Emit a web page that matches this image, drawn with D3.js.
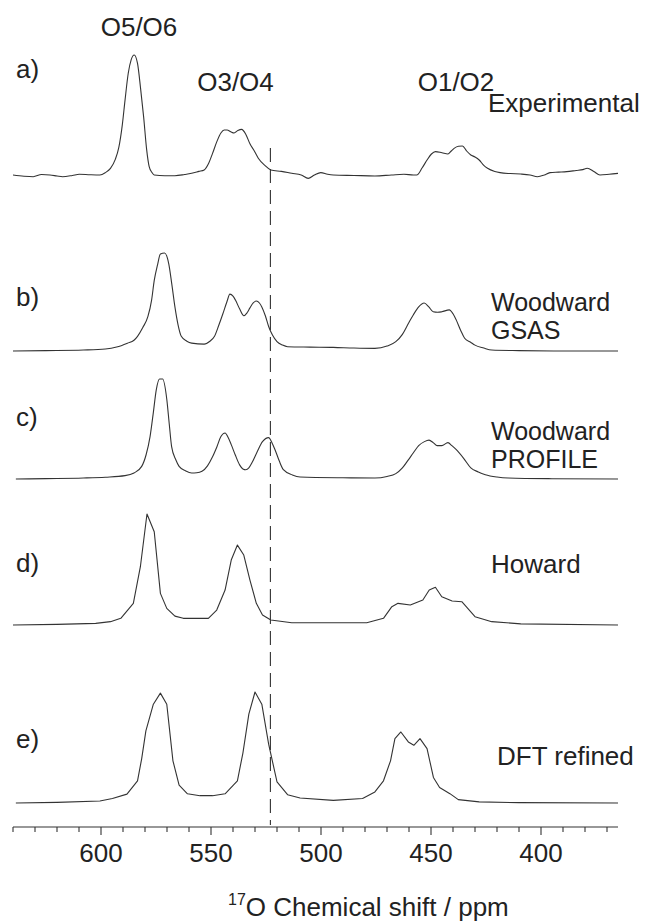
<!DOCTYPE html>
<html><head><meta charset="utf-8">
<script src="https://cdn.jsdelivr.net/npm/d3@7/dist/d3.min.js"></script>
<style>
body{margin:0;background:#fff}
svg{display:block}
text{font-family:"Liberation Sans",Arial,Helvetica,sans-serif;fill:#222}
</style>
</head><body>
<svg id="chart" width="654" height="922"></svg>
<script>
// ---- data (ppm, normalised intensity) ----
const xDomain = [640, 365];
const majorTicks = [600, 550, 500, 450, 400];
const minorTicks = d3.range(640, 369, -10);
const dashedShift = 523;
const peakGroups = ["O5/O6", "O3/O4", "O1/O2"];
const spectrumTags = ["a)", "b)", "c)", "d)", "e)"];
const spectrumNames = [["Experimental"], ["Woodward", "GSAS"], ["Woodward", "PROFILE"], ["Howard"], ["DFT refined"]];
const axisTitle = ["17", "O Chemical shift / ppm"];

const experimental = [
  [640,0],[635,-0.01],[630.8,-0.014],[627,0.004],[623.2,0],[620,-0.008],[617.5,-0.014],[613,-0.004],[609.9,0.006],[605,0.002],[600.5,0],
  [598,0.02],[595.7,0.055],[593.5,0.13],[591.9,0.23],[590.3,0.42],[589.1,0.62],[587.6,0.85],[586.3,0.96],[584.9,1.0],[583.4,0.93],[582,0.72],[580.6,0.48],[579.3,0.22],[578.1,0.07],[576.8,0.02],[575.8,0],
  [571,-0.006],[566.4,-0.006],[562,0.004],[558.8,0.014],[555.5,0.03],[553.1,0.042],[551,0.1],[549.3,0.18],[547.3,0.28],[545.5,0.35],[544,0.375],[542.7,0.375],[541,0.36],[539.5,0.35],[537.8,0.37],[536.1,0.38],[534.2,0.34],[532.3,0.26],[530.3,0.2],[528.5,0.14],[525.5,0.08],[522.8,0.042],
  [518,0.03],[513.3,0.014],[509,0.0],[505.8,-0.028],[503,0.0],[500.1,0.02],[497,0.006],[494.4,0],[485,-0.004],[475.5,-0.008],[468,0.0],[462.3,0.006],[458,0.0],[456.5,0],
  [454,0.06],[451.8,0.125],[449.8,0.175],[448,0.195],[445,0.185],[442.3,0.175],[440.8,0.2],[439.5,0.222],[437.5,0.24],[435.7,0.242],[433.8,0.2],[431.9,0.167],[430,0.15],[428.1,0.125],[426,0.08],[424.3,0.056],[421,0.03],[418.6,0.02],
  [414,0.012],[409.2,0.008],[405,0.0],[401.6,-0.014],[398.5,0.0],[395.9,0.02],[392,0.024],[388.3,0.028],[384,0.038],[381,0.045],[379,0.056],[376,0.03],[373.2,0],[369,0.006],[365,0.014]
];
const woodwardGSAS = [
  [640,0],[625,0.004],[608,0.01],[598,0.02],[592.9,0.04],[588,0.08],[585,0.11],[583.4,0.15],[581,0.24],[578.7,0.35],[577,0.52],[575.8,0.72],[574.3,0.88],[573,0.99],[571.1,1.0],[569.2,0.89],[567.8,0.68],[566.4,0.45],[565,0.27],[563.5,0.15],[561,0.1],[558.8,0.08],[553.1,0.07],[550.5,0.1],[548.4,0.15],[546.5,0.26],[544.6,0.38],[542.8,0.5],[541.4,0.58],[540,0.56],[538.9,0.52],[537,0.43],[535.1,0.36],[533.6,0.39],[532.3,0.44],[530.8,0.49],[529.4,0.51],[528,0.49],[526.9,0.45],[525.3,0.36],[523.8,0.25],[522,0.16],[520,0.095],[517.5,0.06],[515.2,0.044],[505,0.04],[494.4,0.037],[485,0.03],[475.5,0.027],[470,0.05],[466,0.095],[463,0.17],[460.3,0.28],[458,0.37],[455.6,0.45],[453.1,0.49],[451,0.45],[449,0.4],[447,0.395],[445.1,0.4],[441.7,0.42],[440,0.38],[438.5,0.315],[436.5,0.21],[434.7,0.13],[432,0.09],[430,0.06],[426,0.03],[422.4,0.01],[410,0.004],[390,0],[365,0]
];
const woodwardPROFILE = [
  [638.7,0],[625,0.004],[608,0.01],[598,0.018],[589.1,0.033],[585,0.06],[581.5,0.125],[579.5,0.24],[577.7,0.42],[576.2,0.66],[574.9,0.88],[573.4,0.99],[572,0.99],[570.1,0.79],[569,0.55],[567.9,0.32],[566,0.19],[564.5,0.125],[561.5,0.08],[558.8,0.06],[556.5,0.062],[554.1,0.076],[551.6,0.13],[549.3,0.22],[547.3,0.32],[545.5,0.42],[543.6,0.455],[542.2,0.41],[540.8,0.34],[539,0.24],[537,0.14],[535.5,0.1],[534.2,0.092],[532.8,0.11],[531.4,0.16],[529,0.27],[526.6,0.37],[523.8,0.41],[522.3,0.36],[520.9,0.29],[519,0.18],[517.1,0.092],[513,0.04],[509.5,0.02],[490,0.012],[475.5,0.01],[470,0.025],[466,0.053],[463,0.11],[460.3,0.19],[458,0.26],[455.6,0.33],[453,0.37],[450.9,0.385],[449,0.36],[447.2,0.33],[445.1,0.33],[442.3,0.36],[440.5,0.33],[438.5,0.29],[435,0.2],[431.9,0.11],[428.5,0.07],[425.3,0.043],[420,0.02],[414.9,0.01],[395,0.003],[365,0]
];
const howard = [
  [640,0],[620,0.006],[602.4,0.015],[595.7,0.03],[591,0.06],[585.3,0.195],[582.1,0.525],[579.1,1.0],[575.8,0.84],[573,0.285],[570.1,0.15],[566.4,0.08],[562.6,0.06],[551.2,0.06],[547.4,0.135],[543.6,0.315],[540.8,0.585],[538,0.72],[535.1,0.63],[532.3,0.405],[529.4,0.195],[526.6,0.09],[522.8,0.045],[513.3,0.02],[479.2,0.02],[471.6,0.06],[467.8,0.165],[465,0.195],[459.4,0.18],[453.7,0.225],[450.8,0.315],[448,0.34],[445.1,0.255],[440.4,0.216],[436,0.21],[430,0.075],[422.4,0.03],[409.2,0.01],[365,0]
];
const dftRefined = [
  [638.7,0],[620,0.006],[600.5,0.018],[594.8,0.04],[588.2,0.08],[583.4,0.2],[581.5,0.4],[579.6,0.65],[576.2,0.89],[573,0.99],[570.1,0.89],[567.3,0.38],[564.5,0.16],[560.7,0.083],[555,0.066],[549.3,0.066],[543.6,0.083],[538,0.2],[535.5,0.45],[532.8,0.8],[530,1.0],[526.9,0.89],[523.8,0.53],[520,0.19],[515.2,0.075],[509.5,0.045],[494.4,0.024],[481.1,0.04],[475.5,0.1],[471.6,0.2],[468.4,0.38],[466.4,0.58],[463.7,0.64],[460.3,0.55],[457.8,0.52],[455,0.58],[451.8,0.49],[448.9,0.23],[446.1,0.14],[441.4,0.084],[437.6,0.03],[428.1,0.01],[410,0.003],[365,0]
];
const spectra = [experimental, woodwardGSAS, woodwardPROFILE, howard, dftRefined];

// ---- layout ----
const x = d3.scaleLinear().domain(xDomain).range([13, 618]);
const panels = [
  {base: 175, amp: 120, curve: d3.curveMonotoneX},
  {base: 351, amp: 98,  curve: d3.curveMonotoneX},
  {base: 479, amp: 101, curve: d3.curveMonotoneX},
  {base: 625, amp: 111, curve: d3.curveLinear},
  {base: 803, amp: 111, curve: d3.curveLinear}
];
const tagX = 16;
const tagBaseline = [78, 306, 426, 572, 748];
const nameX = [488, 491, 491, 491, 497];
const nameBaseline = [[112], [311, 339], [440, 468], [573], [765]];
const groupX = [139, 235.5, 456];
const groupBaseline = [36, 91, 91];
const axisY = 827;
const fs = 26, fsName = 25;

const svg = d3.select("#chart");

spectra.forEach((data, i) => {
  const p = panels[i];
  const y = d3.scaleLinear().domain([0, 1]).range([p.base, p.base - p.amp]);
  const line = d3.line().x(d => x(d[0])).y(d => y(d[1])).curve(p.curve);
  svg.append("path").attr("d", line(data))
    .attr("fill", "none").attr("stroke", "#333").attr("stroke-width", 1.1)
    .attr("stroke-linejoin", "round");
});

// dashed reference line
svg.append("line")
  .attr("x1", x(dashedShift)).attr("x2", x(dashedShift))
  .attr("y1", 148).attr("y2", 825)
  .attr("stroke", "#333").attr("stroke-width", 1.1)
  .attr("stroke-dasharray", "14,7");

// axis
const axis = svg.append("g").attr("transform", `translate(0,${axisY})`);
axis.append("line").attr("x1", x(xDomain[0])).attr("x2", x(xDomain[1]))
  .attr("stroke", "#333").attr("stroke-width", 1.1);
axis.selectAll("line.tick").data(minorTicks).enter().append("line")
  .attr("class", "tick")
  .attr("x1", d => x(d)).attr("x2", d => x(d))
  .attr("y1", 0).attr("y2", d => majorTicks.includes(d) ? 8 : 5)
  .attr("stroke", "#333").attr("stroke-width", 1.1);
axis.selectAll("text").data(majorTicks).enter().append("text")
  .attr("x", d => x(d)).attr("y", 35)
  .attr("text-anchor", "middle").attr("font-size", fs)
  .text(d => d);

// axis title
const t = svg.append("text").attr("x", 228).attr("y", 916).attr("font-size", fs);
t.append("tspan").attr("font-size", 16).attr("dy", -11).text(axisTitle[0]);
t.append("tspan").attr("dy", 11).text(axisTitle[1]);

// peak group labels
peakGroups.forEach((g, i) => {
  svg.append("text").attr("x", groupX[i]).attr("y", groupBaseline[i])
    .attr("text-anchor", "middle").attr("font-size", fs).text(g);
});

// spectrum tags & names
spectrumTags.forEach((tag, i) => {
  svg.append("text").attr("x", tagX).attr("y", tagBaseline[i])
    .attr("font-size", fs).text(tag);
  spectrumNames[i].forEach((n, j) => {
    svg.append("text").attr("x", nameX[i]).attr("y", nameBaseline[i][j])
      .attr("font-size", spectrumNames[i].length > 1 ? fsName : fs).text(n);
  });
});
</script>
</body></html>
